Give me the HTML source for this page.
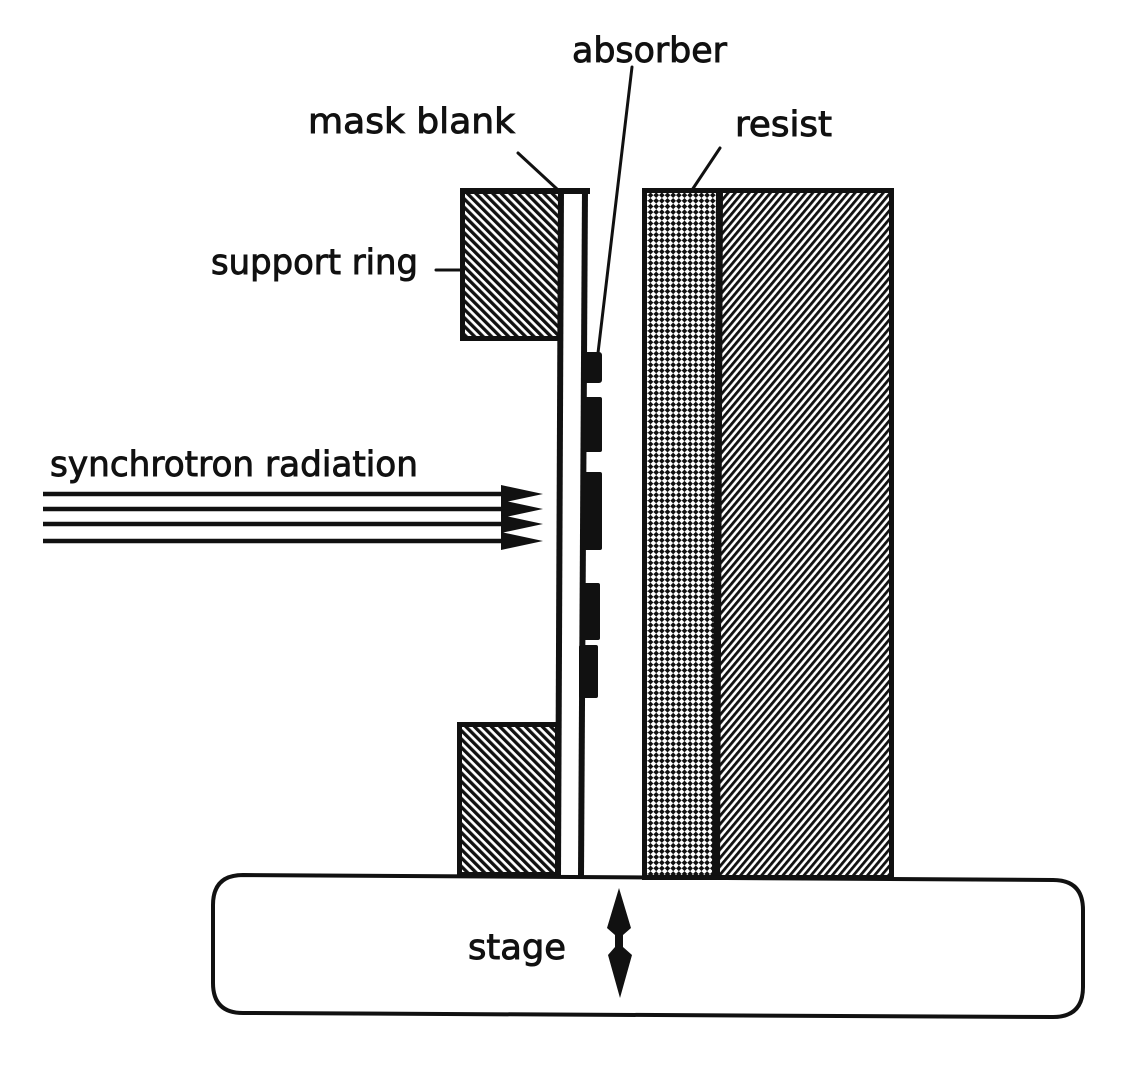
<!DOCTYPE html>
<html><head><meta charset="utf-8"><style>
html,body{margin:0;padding:0;background:#fff;}
svg{display:block;}
text{font-family:"DejaVu Sans","Liberation Sans",sans-serif;fill:#111;stroke:#111;stroke-width:0.9;}
</style></head><body>
<svg width="1144" height="1068" viewBox="0 0 1144 1068" xmlns="http://www.w3.org/2000/svg">
<defs>
<pattern id="bs" width="6" height="20" patternUnits="userSpaceOnUse" patternTransform="rotate(-45)">
<rect width="6" height="20" fill="#fff"/><rect width="3.3" height="20" fill="#111"/>
</pattern>
<pattern id="fs" width="5.4" height="20" patternUnits="userSpaceOnUse" patternTransform="rotate(40)">
<rect width="5.4" height="20" fill="#fff"/><rect width="2.8" height="20" fill="#111"/>
</pattern>
<pattern id="dt" width="8" height="8" patternUnits="userSpaceOnUse" patternTransform="rotate(45)">
<rect width="8" height="8" fill="#fff"/><rect width="4" height="4" fill="#111"/><rect x="4" y="4" width="4" height="4" fill="#111"/>
</pattern>
</defs>

<!-- labels -->
<text x="572" y="62" font-size="35" textLength="155" lengthAdjust="spacingAndGlyphs">absorber</text>
<text x="308" y="133" font-size="35" textLength="207" lengthAdjust="spacingAndGlyphs">mask blank</text>
<text x="735" y="136" font-size="35" textLength="97" lengthAdjust="spacingAndGlyphs">resist</text>
<text x="211" y="274" font-size="35" textLength="207" lengthAdjust="spacingAndGlyphs">support ring</text>
<text x="50" y="476" font-size="35" textLength="368" lengthAdjust="spacingAndGlyphs">synchrotron radiation</text>
<text x="468" y="959" font-size="35" textLength="98" lengthAdjust="spacingAndGlyphs">stage</text>

<!-- leader lines -->
<g stroke="#111" stroke-width="3" fill="none" stroke-linecap="round">
<line x1="518" y1="153" x2="557" y2="189"/>
<line x1="632" y1="67" x2="598" y2="353"/>
<line x1="720" y1="148" x2="692" y2="190"/>
<line x1="436" y1="270" x2="461" y2="270"/>
</g>

<!-- support rings -->
<rect x="462.5" y="190.5" width="98" height="148" fill="url(#bs)" stroke="#111" stroke-width="5"/>
<rect x="459.5" y="724.5" width="98" height="150" fill="url(#bs)" stroke="#111" stroke-width="5"/>
<rect x="460" y="188" width="130" height="6" fill="#111"/>

<!-- mask blank lines -->
<polygon points="558,188 564,188 561,876 555,876" fill="#111"/>
<polygon points="582,188 588,188 584,876 578,876" fill="#111"/>

<!-- absorbers -->
<g fill="#111">
<rect x="582" y="352" width="20" height="31" rx="3"/>
<rect x="582" y="397" width="20" height="55" rx="2"/>
<rect x="582" y="472" width="20" height="78" rx="2"/>
<rect x="580" y="583" width="20" height="57" rx="2"/>
<rect x="579" y="645" width="19" height="53" rx="2"/>
</g>

<!-- resist + wafer -->
<rect x="643" y="189" width="76" height="689" fill="url(#dt)"/>
<rect x="716" y="189" width="176" height="689" fill="url(#fs)"/>
<rect x="644.5" y="190.5" width="247" height="687" fill="none" stroke="#111" stroke-width="5"/>
<polygon points="716,190 723,190 720,878 712,878" fill="#111"/>

<!-- synchrotron arrows -->
<g stroke="#111" stroke-width="4.5">
<line x1="43" y1="494" x2="505" y2="494"/>
<line x1="43" y1="509" x2="505" y2="509"/>
<line x1="43" y1="524" x2="505" y2="524"/>
<line x1="43" y1="541" x2="505" y2="541"/>
</g>
<g fill="#111">
<polygon points="501,485 543,494 501,503"/>
<polygon points="501,500 543,509 501,518"/>
<polygon points="501,515 543,524 501,533"/>
<polygon points="501,532 543,541 501,550"/>
</g>

<!-- stage -->
<path d="M243 875 L1053 880 Q1083 880 1083 910 L1083 987 Q1083 1017 1053 1017 L243 1013 Q213 1013 213 983 L213 905 Q213 875 243 875 Z" fill="none" stroke="#111" stroke-width="4"/>

<!-- double arrow -->
<polygon points="619,888 631,928 623,935 623,947 632,955 620,998 608,955 615,947 615,935 607,928" fill="#111"/>
</svg>
</body></html>
